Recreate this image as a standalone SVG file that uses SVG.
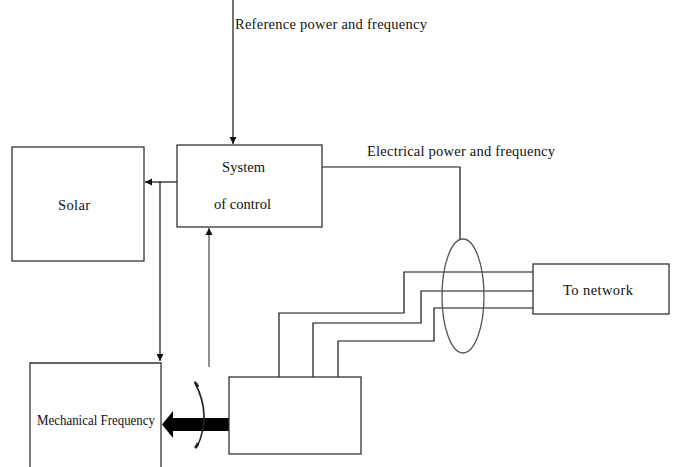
<svg xmlns="http://www.w3.org/2000/svg" width="673" height="467" viewBox="0 0 673 467">
<style>
.box{fill:#fff;stroke:#333;stroke-width:1.3}
.ln{fill:none;stroke:#111;stroke-width:1.2}
.gl{fill:none;stroke:#555;stroke-width:1.3}
text{font-family:"Liberation Serif","Times New Roman",serif;font-size:14.5px;fill:#111}
</style>
<defs>
<marker id="ah" markerWidth="8" markerHeight="8" refX="7" refY="4" orient="auto" markerUnits="userSpaceOnUse">
<path d="M0,0.5 L7,4 L0,7.5 Z" fill="#111"/>
</marker>
</defs>
<rect width="673" height="467" fill="#fff"/>
<g id="connectors">
<line class="ln" x1="233" y1="0" x2="233" y2="144" marker-end="url(#ah)"/>
<line class="ln" x1="177" y1="182" x2="145" y2="182" marker-end="url(#ah)"/>
<line class="ln" x1="160" y1="182" x2="160" y2="361" marker-end="url(#ah)"/>
<line class="gl" x1="209" y1="367" x2="209" y2="228" marker-end="url(#ah)"/>
<polyline class="ln" points="322,167 460,167 460,239"/>
<polyline class="ln" points="279,377 279,313 404,313 404,272 533,272"/>
<polyline class="ln" points="313,377 313,323 421,323 421,291 533,291"/>
<polyline class="ln" points="338,377 338,341 434,341 434,308 533,308"/>
<ellipse class="gl" cx="463" cy="296" rx="21" ry="57"/>
<path d="M229,418 L173,418 L173,411 L162,424.5 L173,438 L173,431 L229,431 Z" fill="#000"/>
<path d="M195,383 Q212,415 197,447" fill="none" stroke="#222" stroke-width="1.6"/>
<path d="M194.5,382 Q197,384 198,387 M198,443 Q197,446 195,448" fill="none" stroke="#222" stroke-width="2.5"/>
</g>
<g id="solar">
<rect class="box" x="12" y="147" width="132" height="114"/>
<text x="58" y="210" textLength="32">Solar</text>
</g>
<g id="control">
<rect class="box" x="177" y="145" width="145" height="82"/>
<text x="222" y="172" textLength="43">System</text>
<text x="214" y="209" textLength="57">of control</text>
</g>
<g id="network">
<rect class="box" x="533" y="264" width="136" height="50"/>
<text x="563" y="295" textLength="70">To network</text>
</g>
<g id="generator">
<rect class="box" x="229" y="377" width="132" height="77"/>
</g>
<g id="mechanical">
<polyline class="box" fill="none" points="30,467 30,363 161,363 161,467"/>
<text x="37" y="425" font-size="12.5" textLength="118" lengthAdjust="spacingAndGlyphs">Mechanical Frequency</text>
</g>
<g id="labels">
<text x="235" y="29" textLength="192">Reference power and frequency</text>
<text x="367" y="156" textLength="188">Electrical power and frequency</text>
</g>
</svg>
